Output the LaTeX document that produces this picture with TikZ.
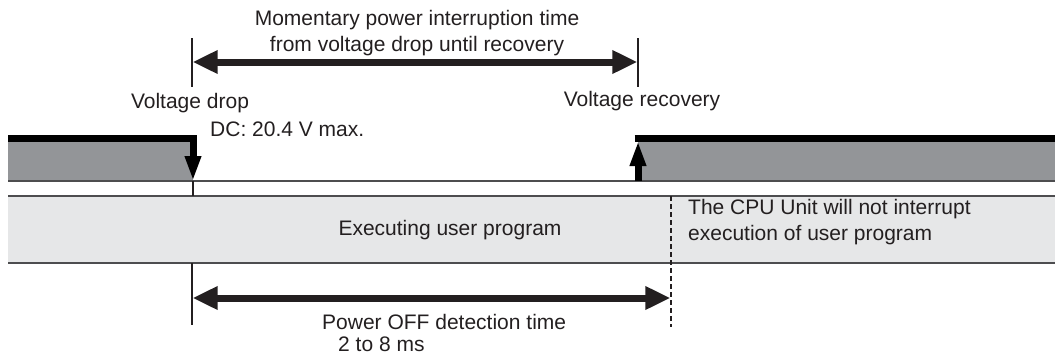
\documentclass[tikz,border=0pt]{standalone}
\usepackage{fontspec}
\setmainfont{Liberation Sans}
\usetikzlibrary{arrows.meta}
\definecolor{wave}{HTML}{939598}
\definecolor{band}{HTML}{E6E7E8}
\definecolor{ink}{HTML}{231F20}
\definecolor{rulec}{HTML}{4D4D4F}
\begin{document}
\begin{tikzpicture}[x=1pt,y=-1pt,
  lbl/.style={font=\fontsize{21}{26}\selectfont, text=ink, inner sep=0pt, align=center},
  lbll/.style={lbl, align=left, anchor=west},
  dimarrow/.style={line width=7pt, draw=ink, {Triangle[length=25pt,width=22pt]}-{Triangle[length=25pt,width=22pt]}},
  edgearrow/.style={line width=7pt, draw=black, -{Triangle[length=25pt,width=15pt]}},
  thickline/.style={line width=7pt, draw=black},
  marker/.style={line width=1.2pt, draw=ink},
  dashmarker/.style={line width=1.2pt, draw=ink, dash pattern=on 5pt off 3pt},
  bandline/.style={line width=2pt, draw=rulec},
  baseline/.style={line width=1.5pt, draw=rulec}]
\useasboundingbox (0,0) rectangle (1055,356);

% waveform fills
\fill[wave] (8,141) rectangle (193,181);
\fill[wave] (638,141) rectangle (1055,181);
% program band
\fill[band] (8,196) rectangle (1055,263);
\coordinate (bandTL) at (8,196);
\coordinate (bandTR) at (1055,196);
\coordinate (bandBL) at (8,263);
\coordinate (bandBR) at (1055,263);
\draw[bandline] (bandTL) -- (bandTR);
\draw[bandline] (bandBL) -- (bandBR);
% baseline of the waveform
\coordinate (baseL) at (8,181);
\coordinate (baseR) at (1055,181);
\draw[baseline] (baseL) -- (baseR);

% voltage drop edge
\coordinate (hiL) at (8,138);
\coordinate (dropTop) at (193,138);
\coordinate (dropTip) at (193,181);
\coordinate (dropBand) at (193,196);
\draw[edgearrow, line join=miter] (hiL) -- (dropTop) -- (dropTip);
\draw[marker] (dropTip) -- (dropBand);

% voltage recovery edge
\coordinate (recBase) at (638,181);
\coordinate (recTip) at (638,141);
\coordinate (recTop) at (634.5,138);
\coordinate (hiR) at (1055,138);
\draw[thickline] (recTop) -- (hiR);
\draw[edgearrow] (recBase) -- (recTip);

% top dimension
\coordinate (tmA) at (192,38);
\coordinate (tmB) at (192,87);
\coordinate (tmC) at (638,38);
\coordinate (tmD) at (638,87);
\draw[marker] (tmA) -- (tmB);
\draw[marker] (tmC) -- (tmD);
\coordinate (topL) at (192.6,62);
\coordinate (topR) at (637.4,62);
\draw[dimarrow] (topL) -- (topR);

% bottom dimension
\coordinate (bmA) at (192,263);
\coordinate (bmB) at (192,325);
\coordinate (bmC) at (671,196);
\coordinate (bmD) at (671,327);
\draw[marker] (bmA) -- (bmB);
\draw[dashmarker] (bmC) -- (bmD);
\coordinate (botL) at (192.6,298);
\coordinate (botR) at (670.4,298);
\draw[dimarrow] (botL) -- (botR);

% labels
\node[lbl] (ttop) at (417,33) {Momentary power interruption time\\from voltage drop until recovery};
\node[lbl] (tdrop) at (190,103) {Voltage drop};
\node[lbll] (tdc) at (210,129) {DC: 20.4 V max.};
\node[lbl] (trec) at (642,101) {Voltage recovery};
\node[lbl] (texec) at (450,230) {Executing user program};
\node[lbll] (tcpu) at (688,222) {The CPU Unit will not interrupt\\execution of user program};
\node[lbll] (tpoff) at (322,322) {Power OFF detection time};
\node[lbll] (tms) at (338,344) {2 to 8 ms};
\end{tikzpicture}
\end{document}
